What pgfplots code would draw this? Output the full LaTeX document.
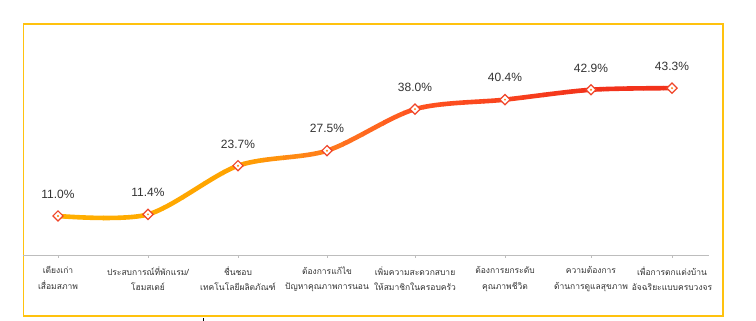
\documentclass[border=0pt]{standalone}
\usepackage{pgfplots}
\pgfplotsset{compat=1.18}
\usepackage{pgfplotstable}
\usepackage{fontspec}
\setmainfont{Liberation Sans}
\newfontfamily\thaifont[Script=Thai]{Loma}

\definecolor{framey}{HTML}{FFC20E}
\definecolor{axisgray}{HTML}{BDBDBD}
\definecolor{labeltext}{HTML}{333333}
\definecolor{markred}{HTML}{F0452A}
\definecolor{dotorange}{HTML}{FF8A1E}
% colour stops along the curve
\definecolor{cA}{HTML}{FFB000}
\definecolor{cB}{HTML}{FFA300}
\definecolor{cC}{HTML}{FF7B1E}
\definecolor{cD}{HTML}{FF5420}
\definecolor{cE}{HTML}{F2321B}

% one colour per vertical strip of the line (strips 20 units wide from 23)
\foreach \i in {0,...,34}{%
  \pgfmathsetmacro\xx{33+\i*20}%
  \ifdim\xx pt<238pt
    \pgfmathsetmacro\p{max(0,min(100,(\xx-58)/180*100))}%
    \xglobal\colorlet{seg\i}{cB!\p!cA}%
  \else\ifdim\xx pt<327pt
    \pgfmathsetmacro\p{(\xx-238)/89*100}%
    \xglobal\colorlet{seg\i}{cC!\p!cB}%
  \else\ifdim\xx pt<415pt
    \pgfmathsetmacro\p{(\xx-327)/88*100}%
    \xglobal\colorlet{seg\i}{cD!\p!cC}%
  \else
    \pgfmathsetmacro\p{min(100,(\xx-415)/176*100)}%
    \xglobal\colorlet{seg\i}{cE!\p!cD}%
  \fi\fi\fi
}

% horizontal position of each category, share in percent
\pgfplotstableread{
x y
58 11.0
148 11.4
238 23.7
327 27.5
415 38.0
505 40.4
591 42.9
672 43.3
}\reasons

\begin{document}
\begin{tikzpicture}
\useasboundingbox (0,0) rectangle (756pt,321pt);
\draw[framey, line width=1.6pt, fill=white] (23.5pt,5pt) rectangle (723pt,297pt);
\draw[black, line width=0.8pt] (203pt,0pt) -- (203pt,3pt);
\begin{axis}[
  at={(23pt,66pt)}, anchor=south west,
  scale only axis,
  width=686pt, height=225pt,
  xmin=23, xmax=709,
  ymin=1.14, ymax=58,
  axis x line=bottom, axis y line=none,
  axis line style={-, draw=axisgray, line width=0.9pt},
  xtick={58,148,238,327,415,505,591,672},
  tick align=outside,
  major tick length=3pt,
  tick style={axisgray, line width=0.8pt},
  xticklabels={
    {เตียงเก่า\\เสื่อมสภาพ},
    {ประสบการณ์ที่พักแรม/\\โฮมสเตย์},
    {ชื่นชอบ\\เทคโนโลยีผลิตภัณฑ์},
    {ต้องการแก้ไข\\ปัญหาคุณภาพการนอน},
    {เพิ่มความสะดวกสบาย\\ให้สมาชิกในครอบครัว},
    {ต้องการยกระดับ\\คุณภาพชีวิต},
    {ความต้องการ\\ด้านการดูแลสุขภาพ},
    {เพื่อการตกแต่งบ้าน\\อัจฉริยะแบบครบวงจร}},
  xticklabel style={align=center, text=labeltext, yshift=-5pt,
    font=\thaifont\fontsize{8.5pt}{15.5pt}\selectfont},
  /pgf/number format/assume math mode=true,
  clip=false,
]
\pgfplotsinvokeforeach{0,...,34}{
  \begin{scope}
    \clip (axis cs:{23+#1*20},-20) rectangle (axis cs:{23+(#1+1)*20+0.6},80);
    \addplot[seg#1, line width=4.6pt, smooth, forget plot] table[x=x, y=y] {\reasons};
  \end{scope}
}
\addplot[only marks, mark=square*, mark size=3.6pt,
  mark options={rotate=45, fill=white, draw=markred, line width=1.2pt},
  point meta=y,
  nodes near coords={\pgfmathprintnumber[fixed, fixed zerofill, precision=1]{\pgfplotspointmeta}\%},
  nodes near coords style={anchor=south, yshift=17pt, inner sep=0pt,
    text=labeltext, font=\fontsize{12pt}{14pt}\selectfont}]
  table[x=x, y=y] {\reasons};
\addplot[only marks, mark=*, mark size=0.8pt, dotorange] table[x=x, y=y] {\reasons};
\end{axis}
\end{tikzpicture}
\end{document}
